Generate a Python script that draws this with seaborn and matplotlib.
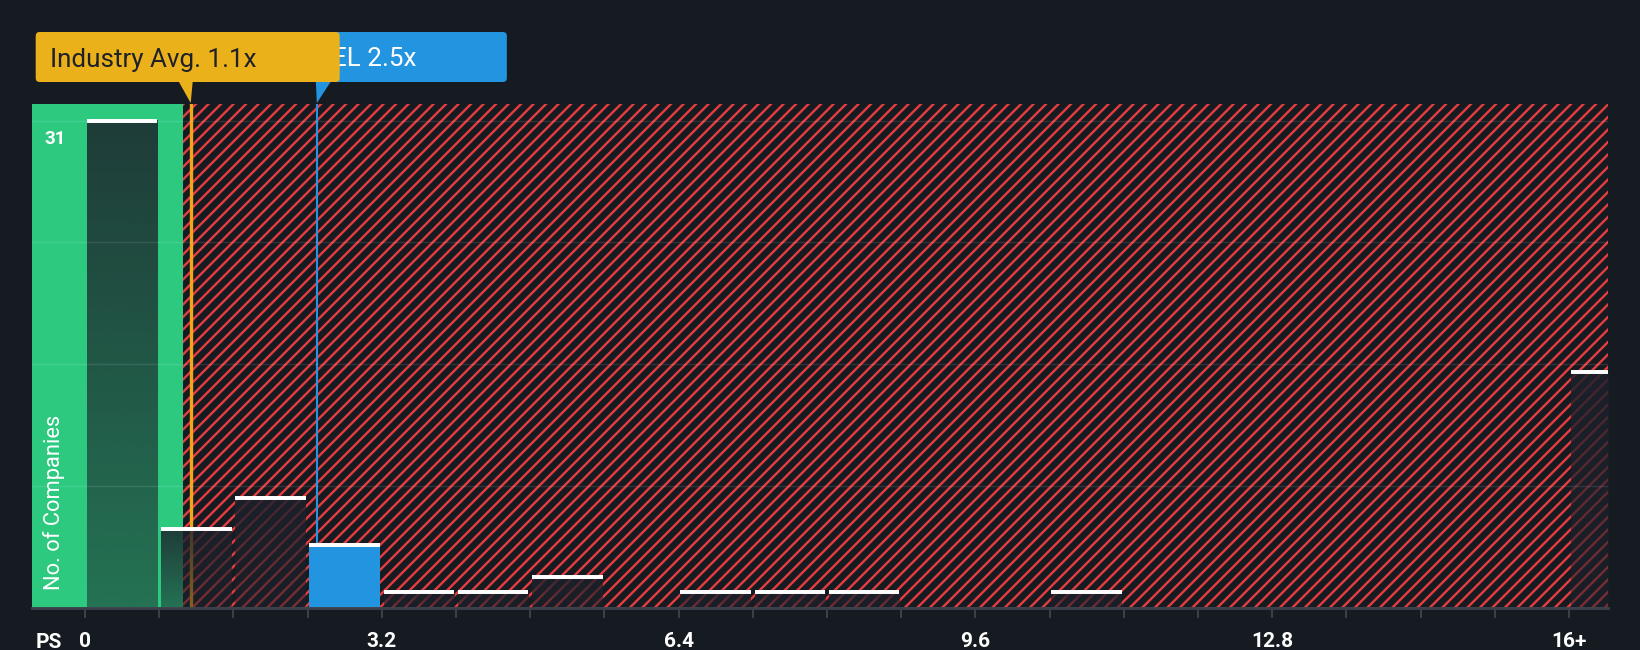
import numpy as np
import pandas as pd
import matplotlib
matplotlib.use("Agg")
import matplotlib.pyplot as plt
import matplotlib.colors as mcolors
from matplotlib.patches import FancyBboxPatch, Polygon
from matplotlib.transforms import IdentityTransform, blended_transform_factory
import seaborn as sns

# --- data ---
bin_starts = [0, 0.8, 1.6, 2.4, 3.2, 4.0, 4.8, 5.6, 6.4, 7.2, 8.0,
              8.8, 9.6, 10.4, 11.2, 12.0, 12.8, 13.6, 14.4, 15.2, 16.0]
company_counts = [31, 5, 7, 4, 1, 1, 2, 0, 1, 1, 1,
                  0, 0, 1, 0, 0, 0, 0, 0, 0, 15]
bin_width = 0.8
label_ticks = [0, 3.2, 6.4, 9.6, 12.8, 16]
label_text = ["0", "3.2", "6.4", "9.6", "12.8", "16+"]
grid_counts = [0, 7.75, 15.5, 23.25, 31]
max_label = "31"

industry_avg = 1.14
industry_label = "Industry Avg. 1.1x"
company_ps = 2.5
company_label = "EL 2.5x"
fair_zone_end = 1.06

# colours
bg = "#161B22"
green = "#2DC97F"
red = "#E53C3F"
blue = "#2394DF"
yellow = "#EBB11B"
orange = "#F2A71B"
shade = "#1C212B"
axis_grey = "#3A4049"

sns.set_style("dark", {"axes.facecolor": bg, "figure.facecolor": bg})
plt.rcParams["font.family"] = ["Roboto", "DejaVu Sans"]
plt.rcParams["hatch.linewidth"] = 1.15

W, H, DPI = 1640, 650, 150
fig = plt.figure(figsize=(W / DPI, H / DPI), dpi=DPI)
ax = fig.add_axes([32 / W, 42 / H, 1576 / W, 504 / H])

df = pd.DataFrame({"ps": np.array(bin_starts) + bin_width / 2, "n": company_counts})
sns.barplot(data=df, x="ps", y="n", native_scale=True, orient="x", width=0.95,
            color=shade, errorbar=None, linewidth=0, ax=ax)
bars = list(ax.patches)

# gradient fill on each bar, solid blue for the company bin
company_bin = int(np.searchsorted(bin_starts, company_ps, side="right")) - 1
grad = np.zeros((64, 1, 4))
grad[..., :3] = mcolors.to_rgb(shade)
grad[:, 0, 3] = np.linspace(0.84, 0.52, 64)
for i, p in enumerate(bars):
    h = p.get_height()
    p.set_zorder(2)
    if h <= 0:
        continue
    x0, w = p.get_x(), p.get_width()
    if i == company_bin:
        p.set_facecolor(blue)
    else:
        im = ax.imshow(grad, extent=(x0, x0 + w, 0, h), aspect="auto", origin="upper",
                       interpolation="bilinear", zorder=2)
        im.set_clip_path(p)
        im.set_clip_box(ax.bbox)
        p.set_facecolor("none")
    ax.hlines(h, x0, x0 + w, color="white", lw=1.9, zorder=3)

xlim = (-0.571, 16.42)
ax.axvspan(xlim[0], fair_zone_end, color=green, lw=0, zorder=0)
ax.axvspan(fair_zone_end, xlim[1], facecolor=bg, edgecolor=red, hatch="////", lw=0, zorder=0.5)
ax.axvline(industry_avg, color=orange, lw=1.6, zorder=1)
ax.axvline(company_ps, color=blue, lw=1.0, zorder=1)

ax.set_xlim(*xlim)
ax.set_ylim(0, 32.05)
ax.set_xlabel("")
ax.set_ylabel("")

ax.set_yticks(grid_counts)
ax.tick_params(axis="y", length=0, labelleft=False)
ax.grid(axis="y", color="white", alpha=0.1, lw=0.7)
ax.grid(axis="x", visible=False)
ax.set_axisbelow(False)

ax.set_xticks(bin_starts, minor=True)
ax.set_xticks(label_ticks, labels=label_text)
ax.tick_params(axis="x", which="both", length=4.8, width=1, color=axis_grey,
               pad=6.5, labelsize=10, labelcolor="white", bottom=True)
for t in ax.get_xticklabels():
    t.set_fontweight("bold")

for s in ["top", "left", "right"]:
    ax.spines[s].set_visible(False)
ax.spines["bottom"].set_color(axis_grey)
ax.spines["bottom"].set_linewidth(1.4)

# labels
fig.text(36 / W, 2.5 / H, "PS", color="white", fontsize=10, fontweight="bold",
         ha="left", va="baseline")
fig.text(54 / W, 60 / H, "No. of Companies", color="white", fontsize=10.5,
         rotation=90, ha="center", va="bottom")
ax.annotate(max_label, xy=(0, grid_counts[-1]),
            xycoords=blended_transform_factory(ax.transAxes, ax.transData),
            xytext=(5.8, -11.5), textcoords="offset points",
            color="white", fontsize=9, fontweight="bold", ha="left", va="baseline")

# value markers above the plot
px = IdentityTransform()
avg_px = ax.transData.transform((industry_avg, 0))[0]
co_px = ax.transData.transform((company_ps, 0))[0]
box_y, box_h = 568, 50

fig.add_artist(FancyBboxPatch((co_px - 190, box_y), 380, box_h,
                              boxstyle="round,pad=0,rounding_size=4",
                              fc=blue, lw=0, transform=px, zorder=5))
fig.add_artist(Polygon([(co_px - 1, box_y + 0.5), (co_px + 14, box_y + 0.5), (co_px, box_y - 21)],
                       closed=True, fc=blue, lw=0, transform=px, zorder=5))
fig.text(co_px + 100, 583.5, company_label, transform=px, color="white",
         fontsize=12.5, ha="right", va="baseline", zorder=5.5)

fig.add_artist(FancyBboxPatch((avg_px - 155, box_y), 304, box_h,
                              boxstyle="round,pad=0,rounding_size=4",
                              fc=yellow, lw=0, transform=px, zorder=6))
fig.add_artist(Polygon([(avg_px - 12, box_y + 0.5), (avg_px + 2, box_y + 0.5), (avg_px, box_y - 21)],
                       closed=True, fc=yellow, lw=0, transform=px, zorder=6))
fig.text(avg_px - 141, 583.5, industry_label, transform=px, color="#1E2129",
         fontsize=12.5, ha="left", va="baseline", zorder=7)

fig.savefig("out.png", dpi=DPI, facecolor=bg)
